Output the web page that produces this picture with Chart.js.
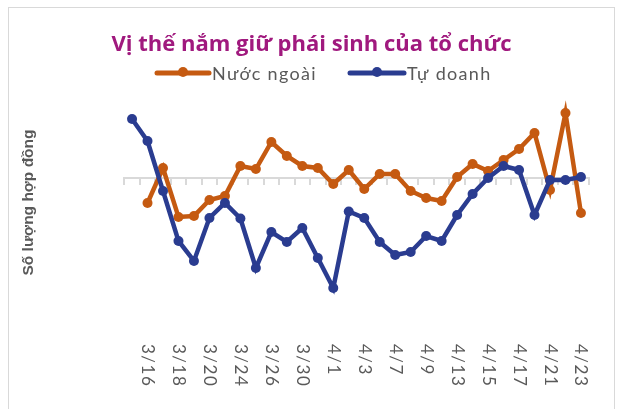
<!DOCTYPE html>
<html>
<head>
<meta charset="utf-8">
<script src="https://cdn.jsdelivr.net/npm/chart.js@4.4.1/dist/chart.umd.min.js"></script>
<style>
  html, body { margin: 0; padding: 0; background: #ffffff; }
  #wrap { width: 623px; height: 409px; position: relative; }
</style>
</head>
<body>
<div id="wrap"><canvas id="c" width="623" height="409"></canvas></div>
<script>
// ---- data ----
const chartTitle = 'Vị thế nắm giữ phái sinh của tổ chức';
const yAxisTitle = 'Số lượng hợp đồng';
const seriesNames = ['Nước ngoài', 'Tự doanh'];
const categories = ['3/13','3/16','3/17','3/18','3/19','3/20','3/23','3/24','3/25','3/26','3/27',
  '3/30','3/31','4/1','4/2','4/3','4/6','4/7','4/8','4/9','4/10',
  '4/13','4/14','4/15','4/16','4/17','4/20','4/21','4/22','4/23'];
// labels shown on the axis (every second category)
const tickLabels = ['','3/16','','3/18','','3/20','','3/24','','3/26','',
  '3/30','','4/1','','4/3','','4/7','','4/9','',
  '4/13','','4/15','','4/17','','4/21','','4/23'];
const foreignValues = [null, -2550, 950, -3950, -3850, -2250, -1850, 1150, 850, 3550, 2150,
  1150, 950, -650, 750, -1150, 350, 350, -1350, -2050, -2350,
  50, 1350, 650, 1750, 2850, 4450, -1250, 6450, -3550];
const proprietaryValues = [5850, 3650, -1350, -6350, -8350, -4050, -2550, -4100, -9050, -5450, -6450,
  -5050, -8050, -11050, -3400, -4050, -6450, -7750, -7450, -5850, -6350,
  -3750, -1650, -50, 1150, 750, -3750, -250, -250, 50];
const yMin = -12750, yMax = 7750;

const ORANGE = '#C55A11';
const BLUE = '#2A3C90';
const GRAY_TEXT = '#595959';
const AXIS_GRAY = '#d9d9d9';

const decorPlugin = {
  id: 'decor',
  beforeDraw(chart) {
    const ctx = chart.ctx;
    ctx.save();
    ctx.fillStyle = '#ffffff';
    ctx.fillRect(0, 0, chart.width, chart.height);
    ctx.strokeStyle = AXIS_GRAY;
    ctx.lineWidth = 1;
    ctx.strokeRect(8.5, 7.5, 606, 430);
    ctx.restore();
  },
  afterDraw(chart) {
    const ctx = chart.ctx;
    // legend
    ctx.save();
    const items = [
      { name: seriesNames[0], color: ORANGE, x0: 157, x1: 209, tx: 212 },
      { name: seriesNames[1], color: BLUE, x0: 350, x1: 404, tx: 407 }
    ];
    const ly = 73;
    items.forEach(it => {
      ctx.strokeStyle = it.color;
      ctx.lineWidth = 5;
      ctx.lineCap = 'round';
      ctx.beginPath();
      ctx.moveTo(it.x0, ly);
      ctx.lineTo(it.x1, ly);
      ctx.stroke();
      ctx.fillStyle = it.color;
      ctx.beginPath();
      ctx.arc((it.x0 + it.x1) / 2, ly - 1, 5, 0, Math.PI * 2);
      ctx.fill();
      ctx.fillStyle = GRAY_TEXT;
      ctx.font = '18px Lato';
      ctx.textBaseline = 'middle';
      ctx.textAlign = 'left';
      if ('letterSpacing' in ctx) ctx.letterSpacing = '1.3px';
      ctx.fillText(it.name, it.tx, ly + 1);
    });
    ctx.restore();
    // rotated x tick labels
    const xs = chart.scales.x;
    ctx.save();
    ctx.fillStyle = GRAY_TEXT;
    ctx.font = '17px Lato';
    ctx.textAlign = 'left';
    ctx.textBaseline = 'middle';
    if ('letterSpacing' in ctx) ctx.letterSpacing = '1.5px';
    tickLabels.forEach((lab, i) => {
      if (!lab) return;
      const x = xs.getPixelForValue(i);
      ctx.save();
      ctx.translate(x, 344);
      ctx.rotate(Math.PI / 2);
      ctx.fillText(lab, 0, 0);
      ctx.restore();
    });
    ctx.restore();
  }
};

new Chart(document.getElementById('c'), {
  type: 'line',
  data: {
    labels: categories,
    datasets: [
      {
        label: seriesNames[1],
        data: proprietaryValues,
        borderColor: BLUE,
        backgroundColor: BLUE,
        borderWidth: 4.5,
        pointRadius: 5,
        pointBorderWidth: 0,
        pointBackgroundColor: BLUE,
        tension: 0,
        order: 0
      },
      {
        label: seriesNames[0],
        data: foreignValues,
        borderColor: ORANGE,
        backgroundColor: ORANGE,
        borderWidth: 4.5,
        pointRadius: 5,
        pointBorderWidth: 0,
        pointBackgroundColor: ORANGE,
        tension: 0,
        order: 1
      }
    ]
  },
  options: {
    responsive: false,
    animation: false,
    layout: { padding: { left: 0, right: 0, top: 0, bottom: 104 } },
    plugins: {
      legend: { display: false },
      tooltip: { enabled: false },
      title: {
        display: true,
        text: chartTitle,
        color: '#A0197E',
        font: { family: 'Open Sans', size: 22, weight: 'bold', lineHeight: 1.2 },
        padding: { top: 32, bottom: 41.6 }
      }
    },
    scales: {
      x: {
        type: 'category',
        position: { y: 0 },
        offset: true,
        ticks: { display: false },
        grid: {
          display: true,
          drawOnChartArea: false,
          drawTicks: true,
          tickLength: 6,
          offset: true,
          color: AXIS_GRAY,
          lineWidth: 2
        },
        border: { display: true, color: AXIS_GRAY, width: 2 }
      },
      y: {
        position: 'left',
        min: yMin,
        max: yMax,
        ticks: { display: false },
        grid: { display: false },
        border: { display: false },
        title: {
          display: true,
          text: yAxisTitle,
          color: GRAY_TEXT,
          font: { family: 'Liberation Sans', size: 15.5, weight: 'bold', lineHeight: 1.2 },
          padding: { top: 19.2, bottom: 0 }
        },
        afterFit(scale) { scale.width = 124.3; }
      },
      yR: {
        position: 'right',
        min: yMin,
        max: yMax,
        ticks: { display: false },
        grid: { display: false },
        border: { display: false },
        afterFit(scale) { scale.width = 34.3; }
      }
    }
  },
  plugins: [decorPlugin]
});
</script>
</body>
</html>
